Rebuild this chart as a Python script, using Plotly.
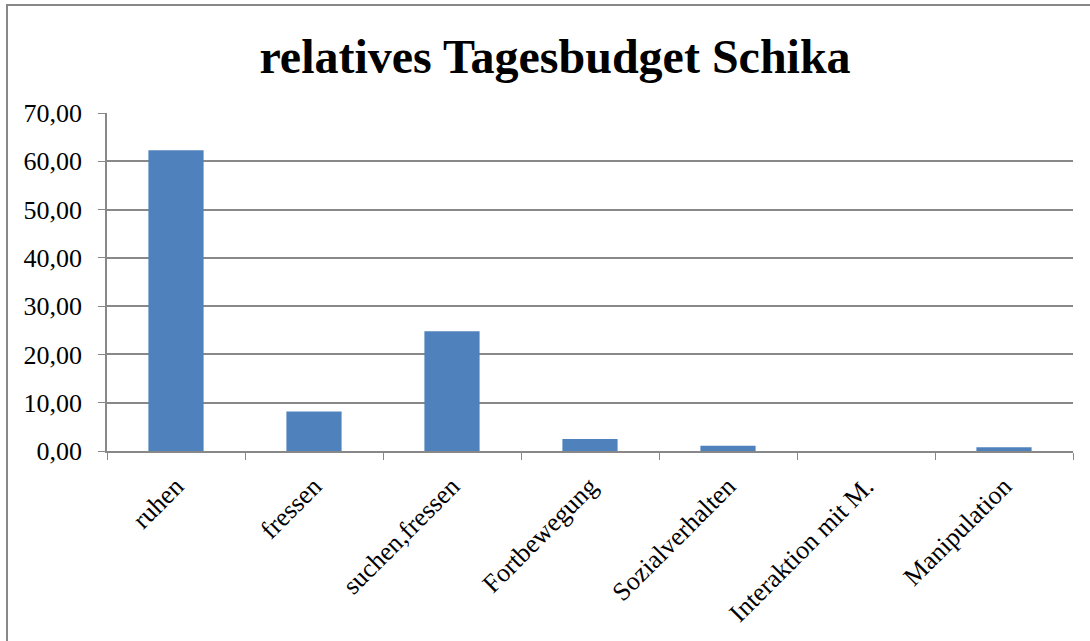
import plotly.graph_objects as go

categories = ["ruhen", "fressen", "suchen,fressen", "Fortbewegung",
              "Sozialverhalten", "Interaktion mit M.", "Manipulation"]
values = [62.3, 8.2, 24.8, 2.5, 1.1, 0.0, 0.8]
tick_vals = [0, 10, 20, 30, 40, 50, 60, 70]

fig = go.Figure(go.Bar(x=categories, y=values, marker_color="#4F81BD",
                       marker_line_width=0))

font = "Liberation Serif, Times New Roman, serif"
L, R, T, B = 107, 1073, 113, 451
fig.update_layout(
    width=1090, height=641,
    margin=dict(l=L, r=1090 - R, t=T, b=641 - B),
    paper_bgcolor="white", plot_bgcolor="white",
    separators=",.",
    bargap=0.6,
    showlegend=False,
    font=dict(family=font, color="black"),
    title=dict(text="<b>relatives Tagesbudget Schika</b>", x=(555 - L) / (R - L),
               xref="paper", xanchor="center",
               y=1 - 56 / 641, yanchor="middle",
               font=dict(family=font, size=48, color="black")),
    shapes=[dict(type="rect", xref="paper", yref="paper",
                 x0=(7 - L) / (R - L), x1=(1100 - L) / (R - L),
                 y0=(B - 660) / (B - T), y1=(B - 5) / (B - T),
                 line=dict(color="#888888", width=2), layer="below")],
)
fig.update_yaxes(range=[0, 70], tickvals=tick_vals, tickformat=".2f",
                 showgrid=True, gridcolor="#888888", gridwidth=1.5,
                 showline=True, linecolor="#888888", linewidth=1.5,
                 ticks="outside", ticklen=7, tickcolor="#888888",
                 ticklabelstandoff=11,
                 tickfont=dict(family=font, size=26, color="black"),
                 zeroline=False)
fig.update_xaxes(showline=True, linecolor="#888888", linewidth=1.5,
                 ticks="outside", ticklen=7, tickcolor="#888888", tickson="boundaries",
                 ticklabelstandoff=8,
                 tickangle=-45, tickfont=dict(family=font, size=26, color="black"),
                 mirror=False)

fig.write_html("out.html", config={"displayModeBar": False})
with open("out.html", encoding="utf-8") as f:
    html = f.read()
html = html.replace("<head>", "<head><style>body{margin:0;}</style>", 1)
with open("out.html", "w", encoding="utf-8") as f:
    f.write(html)
